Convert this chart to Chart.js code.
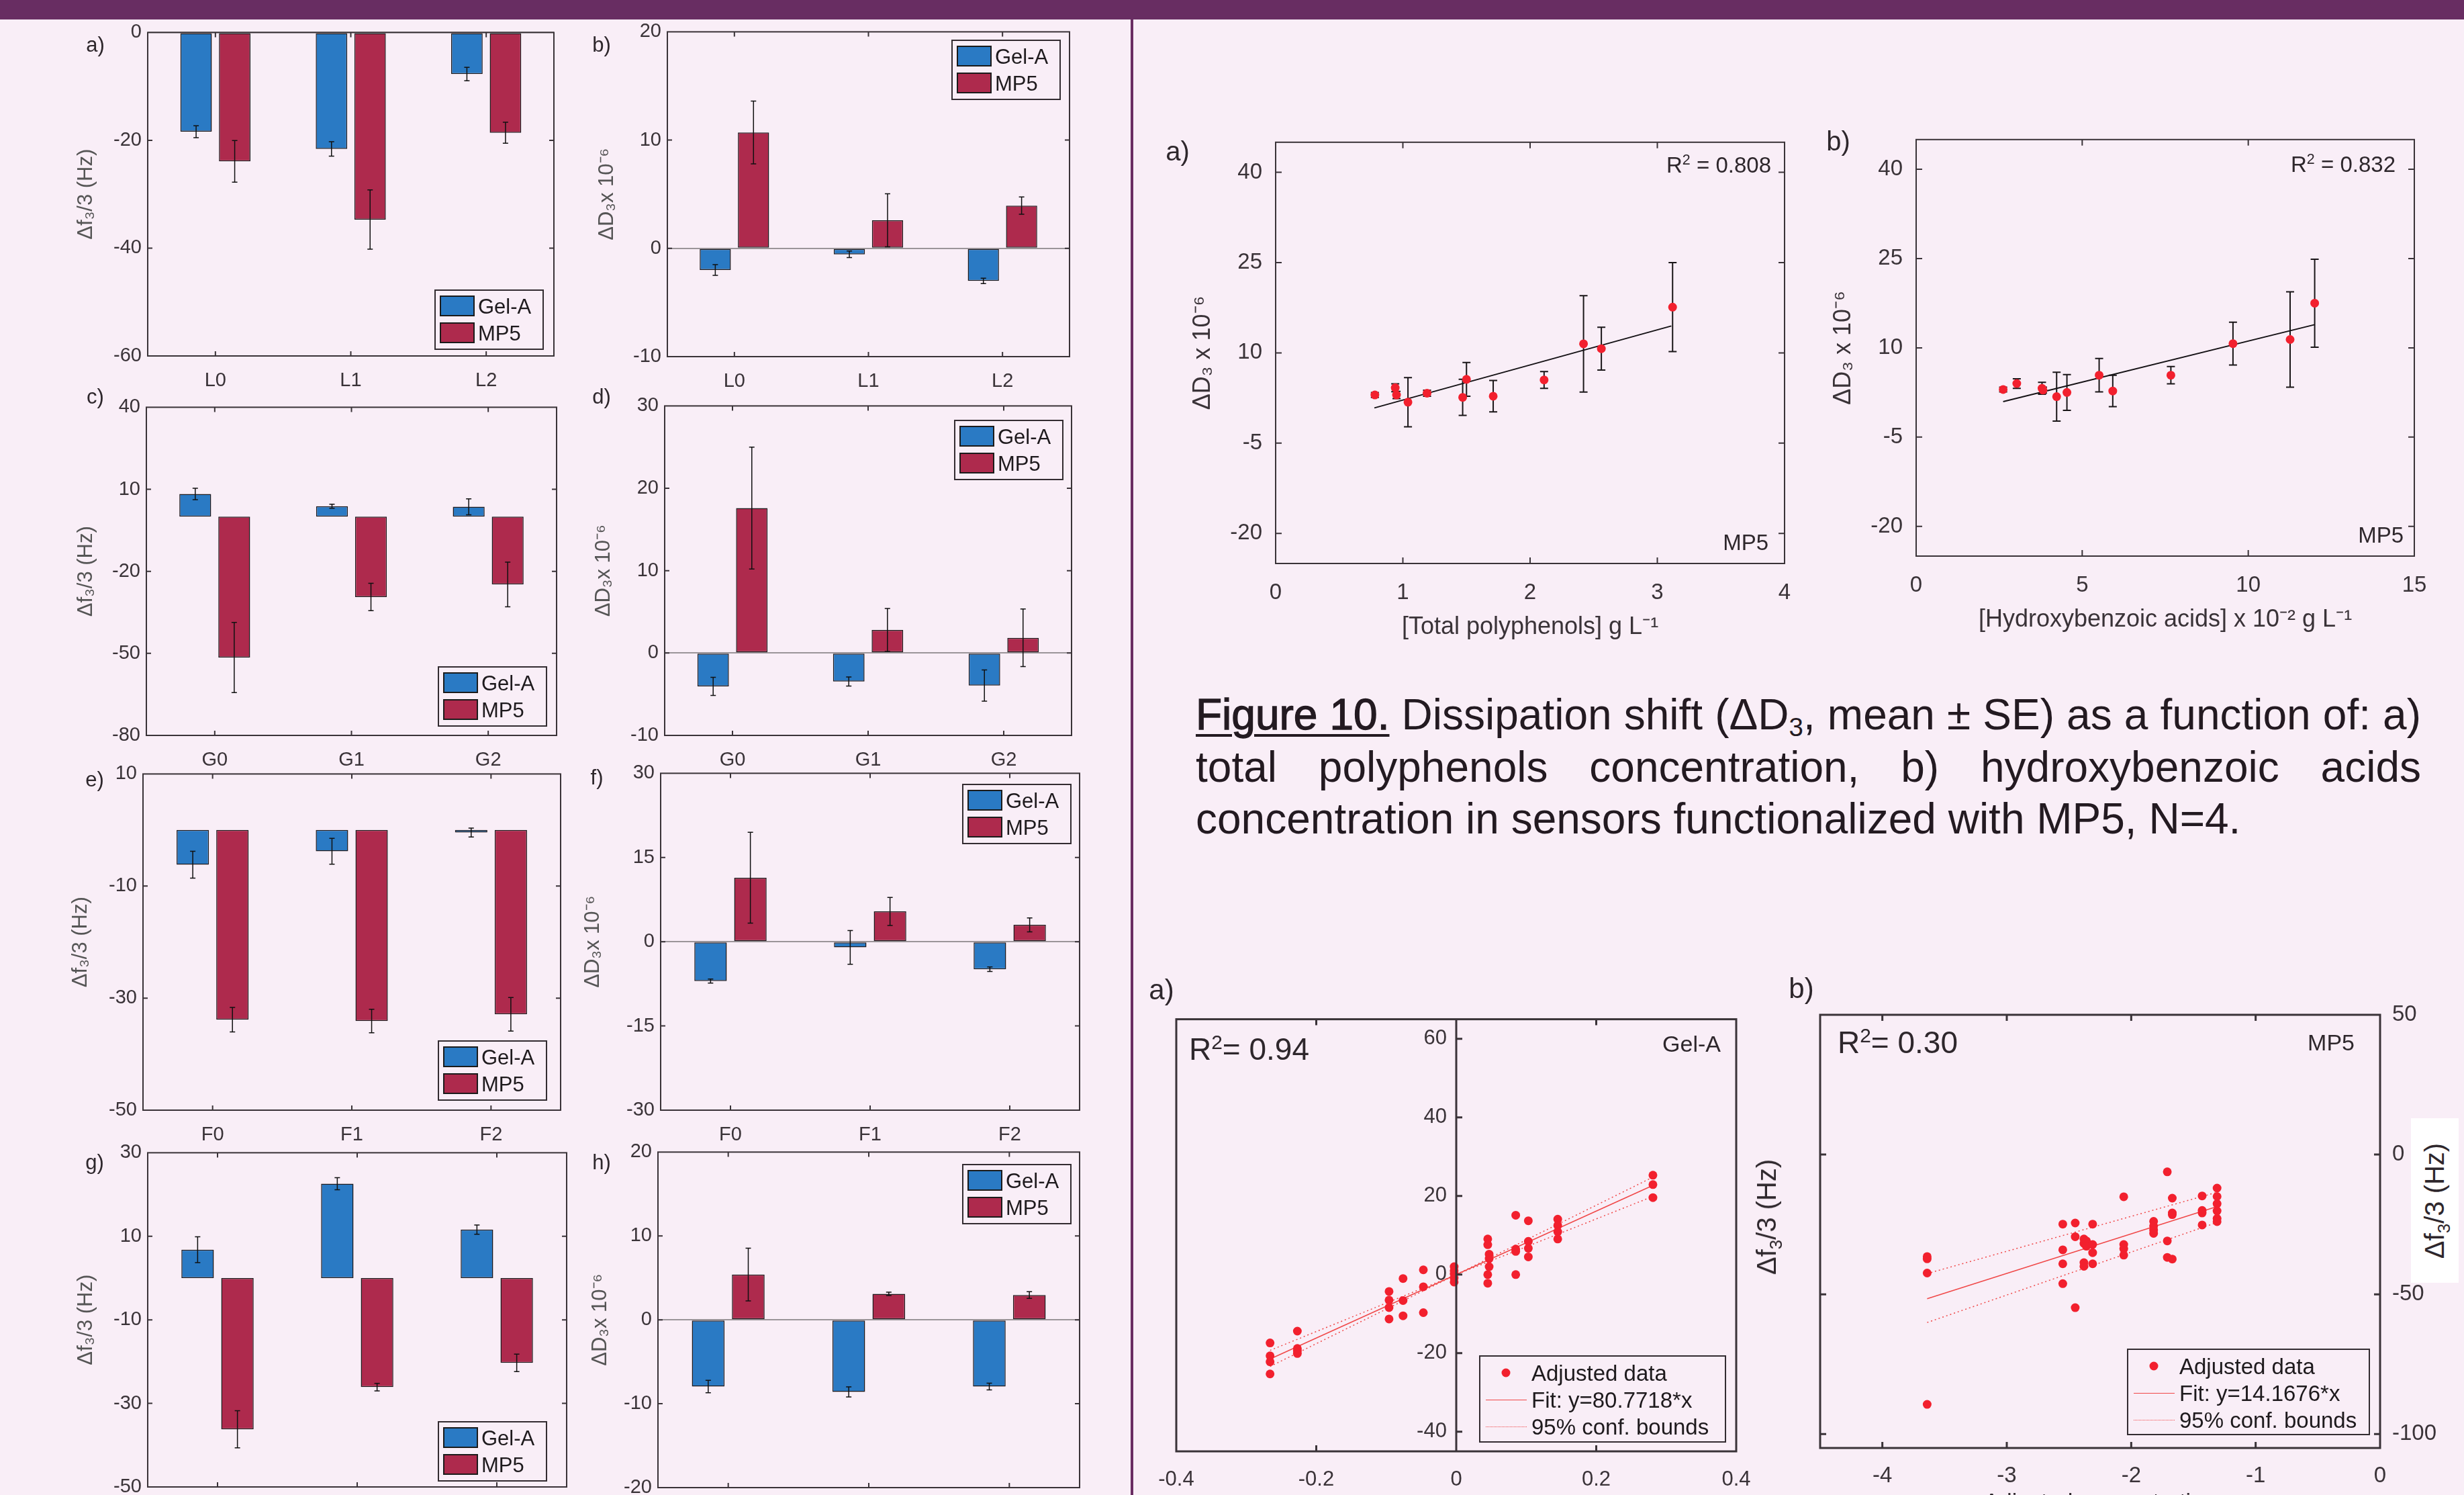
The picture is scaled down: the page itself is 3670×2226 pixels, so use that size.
<!DOCTYPE html>
<html lang="en">
<head>
<meta charset="UTF-8">
<meta name="viewport" content="width=device-width, initial-scale=1.0">
<title>QCM sensors - polyphenols</title>
<script src="https://cdn.jsdelivr.net/npm/chart.js"></script>
<style>
    body {
        margin: 0;
        width: 3670px;
        height: 2226px;
        overflow: hidden;
        position: relative;
        background: #f9eef7;
        font-family: "Liberation Sans", Arial, sans-serif;
        color: #2b2229;
    }
    .header { position: absolute; left: 0; top: 0; width: 3670px; height: 29px; background: #682d62; }
    .divider { position: absolute; left: 1684px; top: 29px; width: 4px; height: 2197px; background: #6a2d63; }
    canvas { position: absolute; }
    .t { position: absolute; white-space: nowrap; line-height: 1; color: #2e272c; }
    .t sub, .t sup { font-size: 0.65em; line-height: 0; }
    .legend { position: absolute; box-sizing: border-box; border: 2px solid #332c31; }
    .legend .sw { position: absolute; box-sizing: border-box; border: 2px solid #1b1b1b; width: 52px; height: 31px; }
    .legend .lt { position: absolute; line-height: 1; white-space: nowrap; transform: translateY(-50%); color: #1e1a1d; }
    .legend .dot { position: absolute; width: 13px; height: 13px; border-radius: 50%; background: #f2202e; transform: translate(-50%, -50%); }
    .legend .ln { position: absolute; width: 61px; height: 0; border-top: 1.5px solid #f04848; }
    .legend .ln.dotted { border-top: 1.5px dotted #f04848; }
    .caption { position: absolute; left: 1781px; top: 1026px; width: 1825px; font-size: 64px; line-height: 77.5px; color: #231a21; }
    .caption div { white-space: nowrap; }
    .caption .j { text-align: justify; text-align-last: justify; }
    .caption sub { font-size: 0.6em; line-height: 0; vertical-align: -0.25em; }
    .caption u { -webkit-text-stroke: 1.3px #231a21; text-underline-offset: 7px; text-decoration-thickness: 4px; }
    .rbox { position: absolute; background: #ffffff; }
</style>
</head>
<body>
<div class="header"></div>
<div class="divider"></div>
<div class="caption">
    <div class="j"><u>Figure 10.</u> Dissipation shift (ΔD<sub>3</sub>, mean ± SE) as a function of: a)</div>
    <div class="j">total polyphenols concentration, b) hydroxybenzoic acids</div>
    <div>concentration in sensors functionalized with MP5, N=4.</div>
</div>
<script>
    // ---------- data ----------
    const seriesNames = ['Gel-A', 'MP5'];
    const catsL = ['L0', 'L1', 'L2'];
    const catsG = ['G0', 'G1', 'G2'];
    const catsF = ['F0', 'F1', 'F2'];
    const catsLast = ['', '', ''];   // labels of the last row fall below the page edge

    // a) / b)  L series
    const aGel = [-18.4, -21.6, -7.7],   aGelErr = [1.1, 1.35, 1.25];
    const aMp5 = [-23.9, -34.7, -18.6],  aMp5Err = [3.85, 5.5, 1.95];
    const bGel = [-2.0, -0.55, -3.0],    bGelErr = [0.5, 0.3, 0.25];
    const bMp5 = [10.7, 2.6, 3.95],      bMp5Err = [2.9, 2.45, 0.8];
    // c) / d)  G series
    const cGel = [8.3, 3.8, 3.6],        cGelErr = [2.1, 0.75, 2.9];
    const cMp5 = [-51.5, -29.4, -24.8],  cMp5Err = [12.85, 5.0, 8.15];
    const dGel = [-4.05, -3.45, -3.95],  dGelErr = [1.1, 0.55, 1.9];
    const dMp5 = [17.6, 2.8, 1.85],      dMp5Err = [7.4, 2.6, 3.5];
    // e) / f)  F series
    const eGel = [-6.2, -3.8, -0.45],    eGelErr = [2.4, 2.3, 0.8];
    const eMp5 = [-33.85, -34.1, -32.9], eMp5Err = [2.2, 2.1, 3.0];
    const fGel = [-7.0, -1.0, -4.9],     fGelErr = [0.37, 3.0, 0.4];
    const fMp5 = [11.4, 5.4, 3.0],       fMp5Err = [8.1, 2.5, 1.25];
    // g) / h)
    const gGel = [6.8, 22.6, 11.6],      gGelErr = [3.1, 1.45, 1.1];
    const gMp5 = [-36.2, -26.1, -20.3],  gMp5Err = [4.45, 0.9, 2.1];
    const hGel = [-7.95, -8.6, -7.95],   hGelErr = [0.75, 0.6, 0.4];
    const hMp5 = [5.4, 3.1, 2.95],       hMp5Err = [3.15, 0.2, 0.4];

    const ticksA = [-60, -40, -20, 0];
    const ticksB = [-10, 0, 10, 20];
    const ticksC = [-80, -50, -20, 10, 40];
    const ticksD = [-10, 0, 10, 20, 30];
    const ticksE = [-50, -30, -10, 10];
    const ticksF = [-30, -15, 0, 15, 30];
    const ticksG = [-50, -30, -10, 10, 30];
    const ticksH = [-20, -10, 0, 10, 20];

    // Figure 10 a) total polyphenols
    const tpX   = [0.78, 0.94, 0.95, 1.04, 1.19, 1.47, 1.50, 1.71, 2.11, 2.42, 2.56, 3.12];
    const tpY   = [3.0, 4.2, 3.0, 1.8, 3.3, 2.6, 5.6, 2.8, 5.5, 11.5, 10.7, 17.6];
    const tpErr = [0.4, 0.65, 0.6, 4.1, 0.5, 3.0, 2.8, 2.6, 1.4, 8.0, 3.55, 7.4];
    const tpFitX = [0.776, 3.11], tpFitY = [0.85, 14.47];
    // Figure 10 b) hydroxybenzoic acids
    const hbX   = [2.62, 3.03, 3.79, 3.82, 4.23, 4.54, 5.51, 5.92, 7.67, 9.54, 11.26, 12.0];
    const hbY   = [3.0, 4.0, 3.2, 2.9, 1.8, 2.5, 5.4, 2.75, 5.4, 10.7, 11.4, 17.5];
    const hbErr = [0.4, 0.8, 1.0, 0.5, 4.1, 3.0, 2.8, 2.65, 1.45, 3.6, 8.0, 7.4];
    const hbFitX = [2.62, 12.0], hbFitY = [0.95, 13.9];
    const ticksD3 = [-20, -5, 10, 25, 40];
    const ticksTp = [0, 1, 2, 3, 4];
    const ticksHb = [0, 5, 10, 15];

    // bottom a) Gel-A adjusted data
    const gelX = [-0.266, -0.266, -0.266, -0.266, -0.227, -0.227, -0.227, -0.227,
                  -0.096, -0.096, -0.096, -0.096, -0.076, -0.076, -0.076, -0.047, -0.047, -0.047,
                  -0.003, -0.003, -0.003, -0.003, -0.003, 0.045, 0.045, 0.045, 0.045, 0.047, 0.047, 0.047,
                  0.085, 0.085, 0.085, 0.085, 0.103, 0.103, 0.103, 0.103, 0.145, 0.145, 0.145, 0.145,
                  0.281, 0.281, 0.281];
    const gelY = [-17.4, -20.7, -22.2, -25.3, -14.4, -18.8, -19.4, -20.1,
                  -4.3, -6.5, -8.4, -11.3, -1.0, -6.6, -10.5, 1.2, -3.1, -9.7,
                  2.0, 1.0, 0.2, -0.9, -1.9, 9.05, 7.6, 0, -2.2, 5.2, 4.05, 2.0,
                  15.1, 6.5, 5.9, 0, 13.7, 8.45, 6.7, 4.5, 14.1, 12.5, 10.9, 9.05,
                  25.3, 22.9, 19.6];
    const gelFitX = [-0.266, 0.281], gelFitY = [-21.5, 22.7];
    const gelUpX = [-0.266, 0, 0.281], gelUpY = [-19.3, 0, 24.8];
    const gelLoX = [-0.266, 0, 0.281], gelLoY = [-23.4, 0, 19.9];
    const ticksGelX = [-0.4, -0.2, 0, 0.2, 0.4];
    const ticksGelY = [-40, -20, 0, 20, 40, 60];

    // bottom b) MP5 adjusted data
    const mpX = [-3.64, -3.64, -3.64, -3.64, -2.55, -2.55, -2.55, -2.55, -2.45, -2.45, -2.45,
                 -2.38, -2.38, -2.38, -2.38, -2.36, -2.36, -2.31, -2.31, -2.31, -2.31,
                 -2.06, -2.06, -2.06, -2.06, -1.82, -1.82, -1.82, -1.82, -1.71, -1.71, -1.71,
                 -1.67, -1.67, -1.67, -1.67, -1.43, -1.43, -1.43, -1.43,
                 -1.31, -1.31, -1.31, -1.31, -1.31, -1.31];
    const mpY = [-36.5, -37.3, -42.4, -89.4, -24.9, -34.1, -39.1, -46.2, -24.5, -29.4, -54.8,
                 -30.2, -31.8, -38.7, -40.0, -30.9, -32.8, -24.9, -32.2, -35.1, -39.1,
                 -15.1, -32.2, -33.7, -36.0, -23.9, -25.6, -27.0, -28.2, -6.2, -30.9, -36.8,
                 -15.6, -20.9, -21.5, -37.4, -14.8, -20.0, -20.9, -25.2,
                 -12.0, -15.0, -17.6, -20.2, -22.9, -24.0];
    const mpFitX = [-3.64, -1.31], mpFitY = [-51.6, -18.6];
    const mpUpX = [-3.64, -1.31], mpUpY = [-42.6, -13.5];
    const mpLoX = [-3.64, -1.31], mpLoY = [-60.1, -24.3];
    const ticksMpX = [-4, -3, -2, -1, 0];
    const ticksMpY = [-100, -50, 0, 50];

    // ---------- style ----------
    const BLUE = '#2a7ac4', RED = '#ae2a4d', DOT = '#f2202e', FITRED = '#f04848';
    const INK = '#3a3338';
    Chart.defaults.font.family = '"Liberation Sans", Arial, sans-serif';
    Chart.defaults.color = INK;

    const DF = 'Δf₃/3 (Hz)';
    const DD = 'ΔD₃x 10⁻⁶';

    // box around the plot with inward ticks (MATLAB look)
    const framePlugin = {
        id: 'frame',
        afterDraw(chart, args, o) {
            const { ctx, chartArea: a } = chart;
            const sx = chart.scales.x, sy = chart.scales.y;
            const L = o.len || 8;
            ctx.save();
            ctx.strokeStyle = o.color || INK;
            ctx.lineWidth = o.lw || 2;
            ctx.strokeRect(a.left, a.top, a.right - a.left, a.bottom - a.top);
            ctx.beginPath();
            sx.ticks.forEach((t, i) => {
                const p = sx.getPixelForTick(i);
                if (p < a.left + 2 || p > a.right - 2) return;
                ctx.moveTo(p, a.bottom); ctx.lineTo(p, a.bottom - L);
                ctx.moveTo(p, a.top); ctx.lineTo(p, a.top + L);
            });
            const x0 = o.yAt != null ? sx.getPixelForValue(o.yAt) : null;
            if (x0 != null) { ctx.moveTo(x0, a.top); ctx.lineTo(x0, a.bottom); }
            sy.ticks.forEach((t, i) => {
                const p = sy.getPixelForTick(i);
                if (p < a.top + 2 || p > a.bottom - 2) return;
                if (x0 != null) { ctx.moveTo(x0, p); ctx.lineTo(x0 + L, p); return; }
                ctx.moveTo(a.left, p); ctx.lineTo(a.left + L, p);
                ctx.moveTo(a.right, p); ctx.lineTo(a.right - L, p);
            });
            ctx.stroke();
            ctx.restore();
        }
    };

    // vertical error bars from dataset.errors
    function drawErrors(chart, o) {
        const { ctx } = chart;
        const ys = chart.scales.y;
        const cap = o.cap || 4;
        ctx.save();
        ctx.strokeStyle = o.color || '#111';
        ctx.lineWidth = o.lw || 1.5;
        chart.data.datasets.forEach((ds, di) => {
            if (!ds.errors) return;
            chart.getDatasetMeta(di).data.forEach((el, i) => {
                const e = ds.errors[i];
                if (e == null) return;
                const v = typeof ds.data[i] === 'object' ? ds.data[i].y : ds.data[i];
                const y1 = ys.getPixelForValue(v - e), y2 = ys.getPixelForValue(v + e);
                ctx.beginPath();
                ctx.moveTo(el.x, y1); ctx.lineTo(el.x, y2);
                ctx.moveTo(el.x - cap, y1); ctx.lineTo(el.x + cap, y1);
                ctx.moveTo(el.x - cap, y2); ctx.lineTo(el.x + cap, y2);
                ctx.stroke();
            });
        });
        ctx.restore();
    }
    const errPlugin = {
        id: 'errbars',
        beforeDatasetsDraw(chart, args, o) { if (o.under) drawErrors(chart, o); },
        afterDatasetsDraw(chart, args, o) { if (!o.under) drawErrors(chart, o); }
    };

    // ---------- helpers ----------
    function addCanvas(left, top, w, h) {
        const c = document.createElement('canvas');
        c.width = Math.round(w);
        c.height = Math.round(h);
        c.style.left = Math.round(left) + 'px';
        c.style.top = Math.round(top) + 'px';
        document.body.appendChild(c);
        return c;
    }
    function text(html, x, y, size, anchor, extra) {
        const d = document.createElement('div');
        d.className = 't';
        d.innerHTML = html;
        d.style.left = x + 'px';
        d.style.top = y + 'px';
        d.style.fontSize = size + 'px';
        const tx = anchor === 'l' ? '0' : anchor === 'r' ? '-100%' : '-50%';
        d.style.transform = 'translate(' + tx + ', -50%)' + (extra || '');
        document.body.appendChild(d);
        return d;
    }
    const fixedTicks = vals => scale => { scale.ticks = vals.map(v => ({ value: v })); };
    const fmt = v => String(Math.round(v * 10) / 10);

    function barLegend(x, y) {
        const lg = document.createElement('div');
        lg.className = 'legend';
        Object.assign(lg.style, { left: x + 'px', top: y + 'px', width: '163px', height: '90px' });
        [BLUE, RED].forEach((col, i) => {
            const sw = document.createElement('div');
            sw.className = 'sw';
            Object.assign(sw.style, { left: '6px', top: (7 + 40 * i) + 'px', background: col });
            const lt = document.createElement('div');
            lt.className = 'lt';
            lt.textContent = seriesNames[i];
            Object.assign(lt.style, { left: '63px', top: (23 + 40 * i) + 'px', fontSize: '31px' });
            lg.append(sw, lt);
        });
        document.body.appendChild(lg);
    }

    function fitLegend(x, y, w, h, fitText) {
        const lg = document.createElement('div');
        lg.className = 'legend';
        Object.assign(lg.style, { left: x + 'px', top: y + 'px', width: w + 'px', height: h + 'px' });
        const rows = ['Adjusted data', fitText, '95% conf. bounds'];
        rows.forEach((r, i) => {
            const ry = 24 + 40 * i;
            if (i === 0) {
                const d = document.createElement('div');
                d.className = 'dot';
                Object.assign(d.style, { left: '38px', top: ry + 'px' });
                lg.appendChild(d);
            } else {
                const l = document.createElement('div');
                l.className = i === 1 ? 'ln' : 'ln dotted';
                Object.assign(l.style, { left: '8px', top: ry + 'px' });
                lg.appendChild(l);
            }
            const lt = document.createElement('div');
            lt.className = 'lt';
            lt.textContent = r;
            Object.assign(lt.style, { left: '76px', top: ry + 'px', fontSize: '33px' });
            lg.appendChild(lt);
        });
        document.body.appendChild(lg);
    }

    // ---------- bar panels ----------
    function barChart(s) {
        const tf = 31, lh = tf * 1.2;
        const [L, T, R, B] = s.plot;
        const left = Math.round(s.ytx - lh / 2);
        const m = { l: L - left, t: 26, r: 30, b: 70 };
        const cv = addCanvas(left, T - m.t, R - L + m.l + m.r, B - T + m.t + m.b);
        const tickFont = { size: 29 };
        new Chart(cv, {
            type: 'bar',
            data: {
                labels: s.cats,
                datasets: [
                    { label: seriesNames[0], data: s.gel, errors: s.gelErr, backgroundColor: BLUE },
                    { label: seriesNames[1], data: s.mp5, errors: s.mp5Err, backgroundColor: RED }
                ]
            },
            options: {
                responsive: false,
                animation: false,
                layout: { padding: { left: 0, top: m.t, right: m.r, bottom: 0 } },
                datasets: {
                    bar: { categoryPercentage: 0.57, barPercentage: 0.815, borderWidth: 1.5,
                           borderColor: '#1e1a1d', borderSkipped: false }
                },
                plugins: {
                    legend: { display: false },
                    tooltip: { enabled: false },
                    frame: { len: 7, lw: 2 },
                    errbars: { cap: 4, lw: 1.5 }
                },
                scales: {
                    x: {
                        grid: { display: false },
                        border: { display: false },
                        ticks: { font: tickFont, padding: 12, autoSkip: false, maxRotation: 0 },
                        afterFit: sc => { sc.height = m.b; }
                    },
                    y: {
                        min: s.ticks[0],
                        max: s.ticks[s.ticks.length - 1],
                        afterBuildTicks: fixedTicks(s.ticks),
                        grid: {
                            drawTicks: false,
                            lineWidth: 2,
                            color: c => (c.tick && c.tick.value === 0) ? '#9b9599' : 'rgba(0,0,0,0)'
                        },
                        border: { display: false },
                        ticks: { font: tickFont, padding: 9 },
                        title: { display: true, text: s.ytitle, font: { size: tf }, color: '#555', padding: 0 },
                        afterFit: sc => { sc.width = m.l; }
                    }
                }
            },
            plugins: [framePlugin, errPlugin]
        });
        barLegend(s.legend[0], s.legend[1]);
        text(s.tag, s.tagAt[0], s.tagAt[1], 31, 'c');
    }

    const barPanels = [
        { cats: catsL, gel: aGel, gelErr: aGelErr, mp5: aMp5, mp5Err: aMp5Err, ticks: ticksA, ytitle: DF,
          plot: [220, 48, 825, 530], ytx: 129, legend: [647, 431], tag: 'a)', tagAt: [142, 66] },
        { cats: catsL, gel: bGel, gelErr: bGelErr, mp5: bMp5, mp5Err: bMp5Err, ticks: ticksB, ytitle: DD,
          plot: [994, 47, 1593, 531], ytx: 905, legend: [1417, 59], tag: 'b)', tagAt: [896, 66] },
        { cats: catsG, gel: cGel, gelErr: cGelErr, mp5: cMp5, mp5Err: cMp5Err, ticks: ticksC, ytitle: DF,
          plot: [218, 606, 829, 1095], ytx: 129, legend: [652, 992], tag: 'c)', tagAt: [142, 590] },
        { cats: catsG, gel: dGel, gelErr: dGelErr, mp5: dMp5, mp5Err: dMp5Err, ticks: ticksD, ytitle: DD,
          plot: [990, 604, 1596, 1095], ytx: 900, legend: [1421, 625], tag: 'd)', tagAt: [896, 590] },
        { cats: catsF, gel: eGel, gelErr: eGelErr, mp5: eMp5, mp5Err: eMp5Err, ticks: ticksE, ytitle: DF,
          plot: [213, 1152, 835, 1653], ytx: 121, legend: [652, 1549], tag: 'e)', tagAt: [141, 1160] },
        { cats: catsF, gel: fGel, gelErr: fGelErr, mp5: fMp5, mp5Err: fMp5Err, ticks: ticksF, ytitle: DD,
          plot: [984, 1151, 1608, 1653], ytx: 884, legend: [1433, 1167], tag: 'f)', tagAt: [889, 1157] },
        { cats: catsLast, gel: gGel, gelErr: gGelErr, mp5: gMp5, mp5Err: gMp5Err, ticks: ticksG, ytitle: DF,
          plot: [220, 1716, 844, 2214], ytx: 129, legend: [652, 2116], tag: 'g)', tagAt: [141, 1730] },
        { cats: catsLast, gel: hGel, gelErr: hGelErr, mp5: hMp5, mp5Err: hMp5Err, ticks: ticksH, ytitle: DD,
          plot: [980, 1715, 1608, 2215], ytx: 895, legend: [1433, 1733], tag: 'h)', tagAt: [896, 1730] }
    ];
    barPanels.forEach(barChart);

    // ---------- Figure 10 scatter panels ----------
    function fig10Chart(s) {
        const tf = 36, lh = tf * 1.2;
        const [L, T, R, B] = s.plot;
        const left = Math.round(s.ytx - lh / 2);
        const bottom = Math.round(s.xty + lh / 2);
        const m = { l: L - left, t: 30, r: 40, b: bottom - B };
        const cv = addCanvas(left, T - m.t, R - L + m.l + m.r, B - T + m.t + m.b);
        const tickFont = { size: 33 };
        new Chart(cv, {
            type: 'scatter',
            data: {
                datasets: [
                    { data: s.xs.map((x, i) => ({ x, y: s.ys[i] })), errors: s.err,
                      pointRadius: 6.5, backgroundColor: DOT, borderWidth: 0 },
                    { data: s.fx.map((x, i) => ({ x, y: s.fy[i] })), showLine: true,
                      pointRadius: 0, borderColor: '#151215', borderWidth: 2 }
                ]
            },
            options: {
                responsive: false,
                animation: false,
                layout: { padding: { left: 0, top: m.t, right: m.r, bottom: 0 } },
                plugins: {
                    legend: { display: false },
                    tooltip: { enabled: false },
                    frame: { len: 9, lw: 2 },
                    errbars: { cap: 6, lw: 2, under: true, color: '#1a1618' }
                },
                scales: {
                    x: {
                        type: 'linear',
                        min: s.xticks[0], max: s.xticks[s.xticks.length - 1],
                        afterBuildTicks: fixedTicks(s.xticks),
                        grid: { display: false }, border: { display: false },
                        ticks: { font: tickFont, padding: s.xpad, callback: fmt, maxRotation: 0, autoSkip: false },
                        title: { display: true, text: s.xtitle, font: { size: tf }, color: '#3a3338', padding: 0 },
                        afterFit: sc => { sc.height = m.b; }
                    },
                    y: {
                        min: -25, max: 45,
                        afterBuildTicks: fixedTicks(ticksD3),
                        grid: { display: false }, border: { display: false },
                        ticks: { font: tickFont, padding: 12, callback: fmt },
                        title: { display: true, text: 'ΔD₃ x 10⁻⁶', font: { size: tf }, color: '#3a3338', padding: 0 },
                        afterFit: sc => { sc.width = m.l; }
                    }
                }
            },
            plugins: [framePlugin, errPlugin]
        });
    }
    fig10Chart({ xs: tpX, ys: tpY, err: tpErr, fx: tpFitX, fy: tpFitY, xticks: ticksTp,
                 xtitle: '[Total polyphenols] g L⁻¹', plot: [1900, 210, 2658, 839], ytx: 1792, xty: 934, xpad: 16 });
    fig10Chart({ xs: hbX, ys: hbY, err: hbErr, fx: hbFitX, fy: hbFitY, xticks: ticksHb,
                 xtitle: '[Hydroxybenzoic acids] x 10⁻² g L⁻¹', plot: [2854, 206, 3596, 828], ytx: 2746, xty: 923, xpad: 16 });
    text('a)', 1754, 225, 40, 'c');
    text('b)', 2738, 210, 40, 'c');
    text('R<sup>2</sup> = 0.808', 2638, 245, 33, 'r');
    text('MP5', 2634, 807, 33, 'r');
    text('R<sup>2</sup> = 0.832', 3568, 244, 33, 'r');
    text('MP5', 3580, 796, 33, 'r');

    // ---------- adjusted-data fits ----------
    function fitChart(s) {
        const tf = 34, lh = tf * 1.2;
        const [L, T, R, B] = s.plot;
        const bottom = Math.round(s.xty + lh / 2);
        const m = { l: 45, t: 30, r: s.rightAxis ? 90 : 45, b: bottom - B };
        const cv = addCanvas(L - m.l, T - m.t, R - L + m.l + m.r, B - T + m.t + m.b);
        const tickFont = { size: s.tickSize };
        const pts = (xs, ys) => xs.map((x, i) => ({ x, y: ys[i] }));
        new Chart(cv, {
            type: 'scatter',
            data: {
                datasets: [
                    { data: pts(s.xs, s.ys), pointRadius: 6.5, backgroundColor: DOT, borderWidth: 0 },
                    { data: pts(s.fx, s.fy), showLine: true, pointRadius: 0, borderColor: FITRED, borderWidth: 1.5 },
                    { data: pts(s.ux, s.uy), showLine: true, pointRadius: 0, borderColor: FITRED, borderWidth: 1.5, borderDash: [2, 4] },
                    { data: pts(s.lx, s.ly), showLine: true, pointRadius: 0, borderColor: FITRED, borderWidth: 1.5, borderDash: [2, 4] }
                ]
            },
            options: {
                responsive: false,
                animation: false,
                layout: { padding: { left: m.l, top: m.t, right: s.rightAxis ? 0 : m.r, bottom: 0 } },
                plugins: {
                    legend: { display: false },
                    tooltip: { enabled: false },
                    frame: { len: 9, lw: 3, yAt: s.rightAxis ? null : 0 }
                },
                scales: {
                    x: {
                        type: 'linear',
                        min: s.xmin, max: s.xticks[s.xticks.length - 1],
                        afterBuildTicks: fixedTicks(s.xticks),
                        grid: { display: false }, border: { display: false },
                        ticks: { font: tickFont, padding: s.xpad, callback: fmt, maxRotation: 0, autoSkip: false },
                        title: { display: true, text: s.xtitle, font: { size: tf }, color: '#2e272c', padding: 0 },
                        afterFit: sc => { sc.height = m.b; }
                    },
                    y: {
                        // origin axis: labels sit just left of x = 0
                        position: s.rightAxis ? 'right' : { x: -0.0135 },
                        min: s.ymin, max: s.ymax,
                        afterBuildTicks: fixedTicks(s.yticks),
                        grid: { display: false }, border: { display: false },
                        ticks: { font: tickFont, padding: s.ypad, callback: fmt },
                        afterFit: sc => { sc.width = s.rightAxis ? m.r : 0; }
                    }
                }
            },
            plugins: [framePlugin]
        });
    }
    fitChart({ xs: gelX, ys: gelY, fx: gelFitX, fy: gelFitY, ux: gelUpX, uy: gelUpY, lx: gelLoX, ly: gelLoY,
               xticks: ticksGelX, xmin: -0.4, yticks: ticksGelY, ymin: -45, ymax: 65, tickSize: 31, xpad: 16, ypad: 14,
               xtitle: 'Adjusted concentration', plot: [1752, 1515, 2586, 2161], xty: 2241, rightAxis: false });
    fitChart({ xs: mpX, ys: mpY, fx: mpFitX, fy: mpFitY, ux: mpUpX, uy: mpUpY, lx: mpLoX, ly: mpLoY,
               xticks: ticksMpX, xmin: -4.5, yticks: ticksMpY, ymin: -105, ymax: 50, tickSize: 33, xpad: 14, ypad: 10,
               xtitle: 'Adjusted concentration', plot: [2711, 1511, 3545, 2156], xty: 2238, rightAxis: true });

    text('a)', 1730, 1474, 42, 'c');
    text('b)', 2683, 1472, 42, 'c');
    text('R<sup>2</sup>= 0.94', 1771, 1562, 46, 'l');
    text('Gel-A', 2563, 1554, 34, 'r');
    text('R<sup>2</sup>= 0.30', 2737, 1552, 46, 'l');
    text('MP5', 3507, 1552, 34, 'r');
    text('Δf<sub>3</sub>/3 (Hz)', 2631, 1812, 40, 'c', ' rotate(-90deg)');
    const rb = document.createElement('div');
    rb.className = 'rbox';
    Object.assign(rb.style, { left: '3591px', top: '1665px', width: '71px', height: '245px' });
    document.body.appendChild(rb);
    text('Δf<sub>3</sub>/3 (Hz)', 3626, 1788, 40, 'c', ' rotate(-90deg)');
    fitLegend(2203, 2018, 368, 130, 'Fit: y=80.7718*x');
    fitLegend(3168, 2008, 362, 129, 'Fit: y=14.1676*x');
</script>
</body>
</html>
